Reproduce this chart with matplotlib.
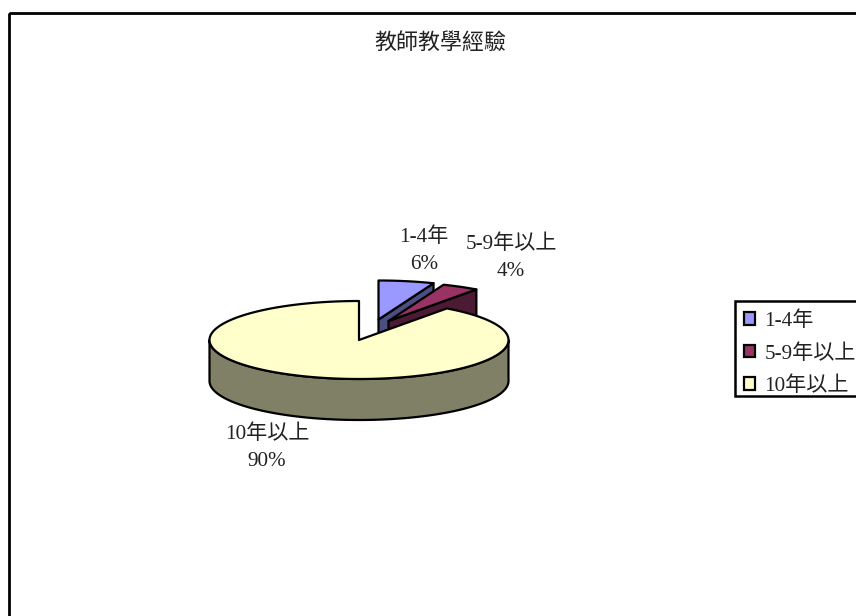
import numpy as np
import matplotlib
matplotlib.use('Agg')
import matplotlib.pyplot as plt
from matplotlib.patches import Polygon, Rectangle, Patch

plt.rcParams['font.family'] = ['Liberation Serif', 'Noto Sans CJK TC', 'DejaVu Sans']

# Data
title = '教師教學經驗'
categories = ['1-4年', '5-9年以上', '10年以上']
values = [6, 4, 90]
top_colors = ['#9999FF', '#993366', '#FFFFCC']
side_colors = ['#4D4D80', '#4D1A33', '#808066']

# Pie layout in image pixels
cx, cy = 359, 340
rx, ry = 149.5, 39
depth = 41
offsets = [(19.5, -20.5), (29.5, -19), (0, 0)]
label_pos = [(424, 251), (511, 258), (267, 448)]

fig = plt.figure(figsize=(8.56, 6.16), dpi=100)
ax = fig.add_axes([0, 0, 1, 1])
ax.set_xlim(0, 856)
ax.set_ylim(616, 0)
ax.axis('off')

# Chart area border, runs off the right and bottom of the image
ax.add_patch(Rectangle((9.5, 12.5), 1000, 800, fill=False, ec='black', lw=2))


def arc(x0, y0, a, b):
    # angles in degrees, clockwise from 12 o'clock
    t = np.radians(np.linspace(a, b, 200))
    return np.column_stack([x0 + rx * np.sin(t), y0 - ry * np.cos(t)])


def face(points, color):
    ax.add_patch(Polygon(points, closed=True, fc=color, ec='black', lw=1.6, joinstyle='round'))


# Slice edges from the values
edges = np.cumsum([0] + values) / sum(values) * 360

for i in range(len(values)):
    a, b = edges[i], edges[i + 1]
    x0, y0 = cx + offsets[i][0], cy + offsets[i][1]
    if i < 2:
        # cut side of the pulled out slices
        end = arc(x0, y0, b, b)[0]
        face([(x0, y0), end, (end[0], end[1] + depth), (x0, y0 + depth)], side_colors[i])
    else:
        # front rim of the big slice
        rim = arc(x0, y0, 90, 270)
        face(np.vstack([rim, (rim + [0, depth])[::-1]]), side_colors[i])
    face(np.vstack([[(x0, y0)], arc(x0, y0, a, b)]), top_colors[i])

for name, val, pos in zip(categories, values, label_pos):
    ax.text(pos[0], pos[1], f'{name}\n{val}%', ha='center', va='center',
            fontsize=15.2, linespacing=1.56, color='#222222')

ax.text(440, 43, title, ha='center', va='center', fontsize=15.8, color='#222222')

# Legend box also runs off the right edge
ax.add_patch(Rectangle((735, 300.5), 200, 95.5, fc='white', ec='black', lw=1.8))
handles = [Patch(fc=c, ec='black', lw=1.6, label=n) for c, n in zip(top_colors, categories)]
leg = ax.legend(handles=handles, loc='upper left', bbox_to_anchor=(744 / 856, 1 - 311.5 / 616),
                prop={'size': 15.2}, frameon=False, borderaxespad=0, borderpad=0,
                labelspacing=0.61, handlelength=0.53, handleheight=0.53,
                handletextpad=0.43, labelcolor='#222222')

fig.savefig('out.png', dpi=100)
